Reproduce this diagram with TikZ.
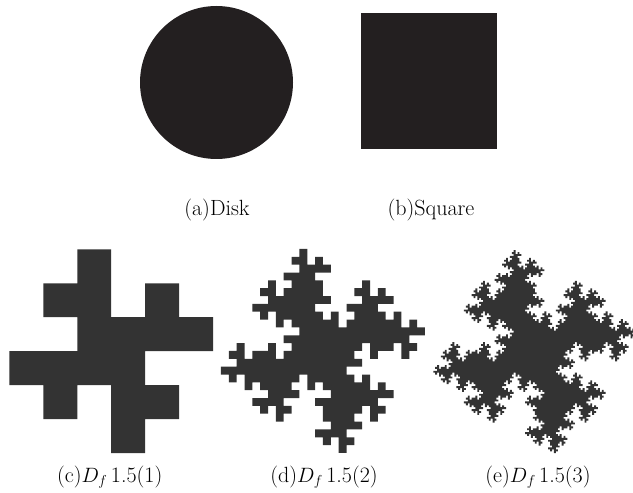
\documentclass[tikz,border=0pt]{standalone}
\usetikzlibrary{lindenmayersystems}
\definecolor{solidink}{HTML}{231F20}
\definecolor{fracink}{HTML}{333333}
\pgfdeclarelindenmayersystem{QuadKoch}{
  \rule{F -> F+F-F-FF+F+F-F}
}
\tikzset{
  solidshape/.style={fill=solidink},
  fracshape/.style={fill=fracink},
  caption/.style={anchor=base, inner sep=0pt, font=\fontsize{22}{26}\selectfont}
}
\begin{document}
\begin{tikzpicture}[x=1pt,y=1pt]
\useasboundingbox (0,0) rectangle (633,493);
% (a) disk
\fill[solidshape] (216.5,410.5) circle (76.5);
% (b) square
\fill[solidshape] (361,344) rectangle (497,480);
\node[caption] (capA) at (217,277.5) {(a)Disk};
\node[caption] (capB) at (431,277.5) {(b)Square};
% (c) level 1
\begin{scope}[shift={(43.3,209.7)}]
\fill[fracshape] (0,0) [l-system={QuadKoch, axiom=F-F-F-F, order=1, step=33.95pt, angle=90}] lindenmayer system -- cycle;
\end{scope}
% (d) level 2
\begin{scope}[shift={(260.2,204.8)}]
\fill[fracshape] (0,0) [l-system={QuadKoch, axiom=F-F-F-F, order=2, step=7.846pt, angle=90}] lindenmayer system -- cycle;
\end{scope}
% (e) level 3
\begin{scope}[shift={(473.5,202.6)}]
\fill[fracshape] (0,0) [l-system={QuadKoch, axiom=F-F-F-F, order=3, step=1.915pt, angle=90}] lindenmayer system -- cycle;
\end{scope}
\node[caption] (capC) at (109.7,10.5) {(c)$D_f\,$1.5(1)};
\node[caption] (capD) at (324,10.5) {(d)$D_f\,$1.5(2)};
\node[caption] (capE) at (538,10.5) {(e)$D_f\,$1.5(3)};
\end{tikzpicture}
\end{document}
